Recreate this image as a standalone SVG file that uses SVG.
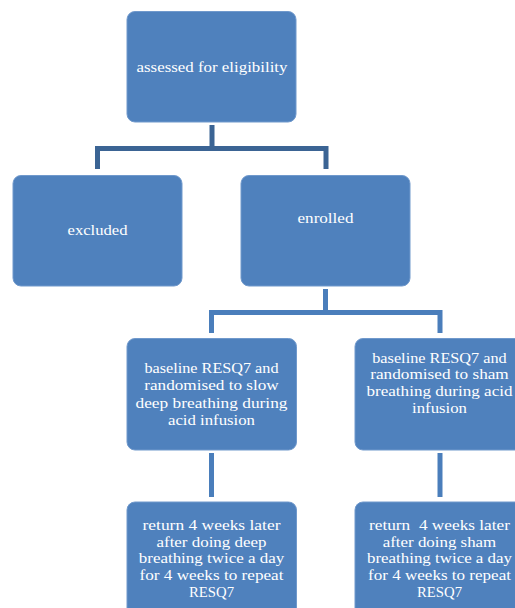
<svg xmlns="http://www.w3.org/2000/svg" width="515" height="608" viewBox="0 0 515 608">
<style>
.box{fill:#4F81BD;stroke:#7099cc;stroke-width:1}
.t{font-family:"Liberation Serif","DejaVu Serif",serif;font-size:15.5px;fill:#ffffff;text-anchor:middle}
.c1{fill:none;stroke:#3B6494;stroke-width:5}
.c2{fill:none;stroke:#4A7EBB;stroke-width:5}
</style>
<rect width="515" height="608" fill="#ffffff"/>
<g id="connectors">
<path class="c1" d="M212 125V148.5M97.5 169V148.5H326V169"/>
<path class="c2" d="M325.5 289V312.5M211.5 333V312.5H440V333"/>
<path class="c2" d="M211.5 453V497"/>
<path class="c2" d="M440 453V497"/>
</g>
<g id="assessed">
<rect class="box" x="127" y="11.5" width="169" height="110.5" rx="8"/>
<text class="t" x="212" y="72" textLength="151" lengthAdjust="spacingAndGlyphs">assessed for eligibility</text>
</g>
<g id="excluded">
<rect class="box" x="13" y="175.5" width="169" height="110.5" rx="8"/>
<text class="t" x="97.5" y="235" textLength="60" lengthAdjust="spacingAndGlyphs">excluded</text>
</g>
<g id="enrolled">
<rect class="box" x="241" y="175.5" width="169" height="110.5" rx="8"/>
<text class="t" x="325.5" y="223" textLength="56" lengthAdjust="spacingAndGlyphs">enrolled</text>
</g>
<g id="slow">
<rect class="box" x="127" y="338.5" width="169.5" height="111.5" rx="8"/>
<text class="t" x="211.5" y="373" textLength="134" lengthAdjust="spacingAndGlyphs">baseline RESQ7 and</text>
<text class="t" x="211.5" y="390" textLength="134.5" lengthAdjust="spacingAndGlyphs">randomised to slow</text>
<text class="t" x="211.5" y="407.5" textLength="152" lengthAdjust="spacingAndGlyphs">deep breathing during</text>
<text class="t" x="211.5" y="424.5" textLength="87" lengthAdjust="spacingAndGlyphs">acid infusion</text>
</g>
<g id="sham">
<rect class="box" x="355" y="338.5" width="170" height="111.5" rx="8"/>
<text class="t" x="439.5" y="362.5" textLength="134.5" lengthAdjust="spacingAndGlyphs">baseline RESQ7 and</text>
<text class="t" x="439.5" y="379" textLength="138.5" lengthAdjust="spacingAndGlyphs">randomised to sham</text>
<text class="t" x="439.5" y="396" textLength="146" lengthAdjust="spacingAndGlyphs">breathing during acid</text>
<text class="t" x="439.5" y="412.5" textLength="55" lengthAdjust="spacingAndGlyphs">infusion</text>
</g>
<g id="return-deep">
<rect class="box" x="127" y="502" width="169.5" height="120" rx="8"/>
<text class="t" x="211.5" y="530" textLength="138" lengthAdjust="spacingAndGlyphs">return 4 weeks later</text>
<text class="t" x="211.5" y="546.5" textLength="110" lengthAdjust="spacingAndGlyphs">after doing deep</text>
<text class="t" x="211.5" y="563" textLength="145.5" lengthAdjust="spacingAndGlyphs">breathing twice a day</text>
<text class="t" x="211.5" y="580" textLength="144" lengthAdjust="spacingAndGlyphs">for 4 weeks to repeat</text>
<text class="t" x="211.5" y="596.5" textLength="45" lengthAdjust="spacingAndGlyphs">RESQ7</text>
</g>
<g id="return-sham">
<rect class="box" x="355" y="502" width="170" height="120" rx="8"/>
<text class="t" x="439.5" y="530" textLength="141" lengthAdjust="spacingAndGlyphs" xml:space="preserve">return  4 weeks later</text>
<text class="t" x="439.5" y="546.5" textLength="113.5" lengthAdjust="spacingAndGlyphs">after doing sham</text>
<text class="t" x="439.5" y="563" textLength="145" lengthAdjust="spacingAndGlyphs">breathing twice a day</text>
<text class="t" x="439.5" y="580" textLength="143" lengthAdjust="spacingAndGlyphs">for 4 weeks to repeat</text>
<text class="t" x="439.5" y="596.5" textLength="45" lengthAdjust="spacingAndGlyphs">RESQ7</text>
</g>
</svg>
